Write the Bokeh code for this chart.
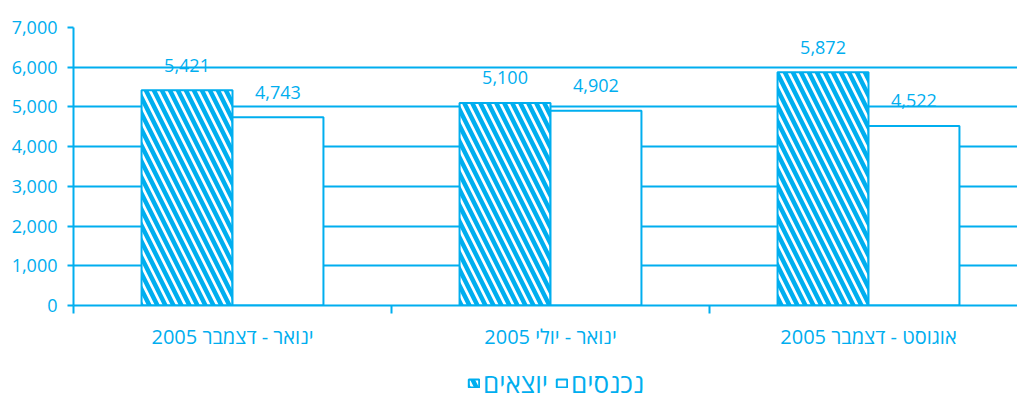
from bokeh.plotting import figure
from bokeh.layouts import column
from bokeh.models import (Range1d, FixedTicker, NumeralTickFormatter, ColumnDataSource,
                          LabelSet, Legend, LegendItem)
from bokeh.core.properties import value
from bokeh.embed import file_html
from bokeh.resources import INLINE

# ---- data ----
categories = ["ינואר - דצמבר 2005", "ינואר - יולי 2005", "אוגוסט - דצמבר 2005"]
series_names = ["יוצאים", "נכנסים"]
outgoing = [5421, 5100, 5872]   # יוצאים (hatched)
incoming = [4743, 4902, 4522]   # נכנסים (white)
y_ticks = [0, 1000, 2000, 3000, 4000, 5000, 6000, 7000]

C = "#00AEEF"
FONT = "Open Sans"
BAR_W = 0.286
OUT_STYLE = dict(fill_color="white", line_color=C, line_width=2, hatch_pattern="\\",
                 hatch_color=C, hatch_weight=4.5, hatch_scale=16)
IN_STYLE = dict(fill_color="white", line_color=C, line_width=2)

centers = [i + 0.5 for i in range(len(categories))]
src_out = ColumnDataSource(dict(x=[c - BAR_W / 2 for c in centers], top=outgoing,
                                label=[f"{v:,}" for v in outgoing]))
src_in = ColumnDataSource(dict(x=[c + BAR_W / 2 for c in centers], top=incoming,
                               label=[f"{v:,}" for v in incoming]))

p = figure(width=1017, height=360, output_backend="svg", toolbar_location=None,
           x_range=Range1d(0, len(categories) - 10 / 318), y_range=Range1d(0, y_ticks[-1]),
           min_border_left=73, min_border_top=27, min_border_bottom=55, min_border_right=0)
p.outline_line_color = None
p.background_fill_color = "white"
p.border_fill_color = "white"

p.vbar(x="x", top="top", width=BAR_W, source=src_out, **OUT_STYLE)
p.vbar(x="x", top="top", width=BAR_W, source=src_in, **IN_STYLE)

for src in (src_out, src_in):
    p.add_layout(LabelSet(x="x", y="top", text="label", source=src, y_offset=25,
                          text_align="center", text_baseline="middle", text_color=C,
                          text_font=value(FONT), text_font_size="18px"))

# grid
p.xgrid.visible = False
p.ygrid.ticker = FixedTicker(ticks=y_ticks)
p.ygrid.grid_line_color = C
p.ygrid.grid_line_width = 2

# y axis
ya = p.yaxis[0]
ya.ticker = FixedTicker(ticks=y_ticks, minor_ticks=[])
ya.formatter = NumeralTickFormatter(format="0,0")
ya.axis_line_color = C
ya.axis_line_width = 2
ya.major_tick_line_color = C
ya.major_tick_line_width = 2
ya.major_tick_out = 6
ya.major_tick_in = 0
ya.major_label_standoff = 10
ya.major_label_text_color = C
ya.major_label_text_font = FONT
ya.major_label_text_font_size = "18px"

# x axis
xa = p.xaxis[0]
xa.ticker = FixedTicker(ticks=centers, minor_ticks=list(range(len(categories) + 1)))
xa.major_label_overrides = {c: name for c, name in zip(centers, categories)}
xa.axis_line_color = C
xa.axis_line_width = 2
xa.major_tick_line_color = None
xa.major_tick_out = 0
xa.major_tick_in = 0
xa.minor_tick_line_color = C
xa.minor_tick_line_width = 2
xa.minor_tick_out = 8
xa.minor_tick_in = 0
xa.major_label_standoff = 9
xa.major_label_text_color = C
xa.major_label_text_font = FONT
xa.major_label_text_font_size = "20px"

# legend strip below the chart (same series, hidden renderers -> legend swatches only)
pl = figure(width=1017, height=36, output_backend="svg", toolbar_location=None,
            x_axis_type=None, y_axis_type=None,
            x_range=Range1d(100, 101), y_range=Range1d(-20000, -10000),
            min_border=0)
pl.outline_line_color = None
pl.background_fill_color = "white"
pl.border_fill_color = "white"
g_out = pl.vbar(x="x", top="top", width=BAR_W, source=src_out, visible=False, **OUT_STYLE)
g_in = pl.vbar(x="x", top="top", width=BAR_W, source=src_in, visible=False, **IN_STYLE)
legend = Legend(items=[LegendItem(label=series_names[0], renderers=[g_out]),
                       LegendItem(label=series_names[1], renderers=[g_in])],
                orientation="horizontal", location=(394, -5),
                glyph_width=13, glyph_height=10, label_standoff=3, spacing=7,
                padding=0, margin=0, border_line_color=None, background_fill_alpha=0,
                inactive_fill_alpha=0,
                label_text_color=C, label_text_font=FONT, label_text_font_size="26px")
pl.add_layout(legend)

layout = column(p, pl, spacing=0)
open("out.html", "w").write(file_html(layout, INLINE))
